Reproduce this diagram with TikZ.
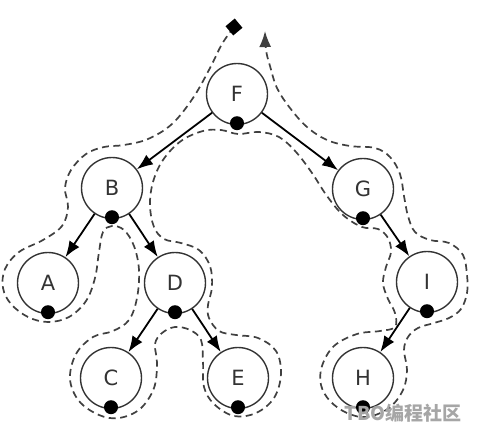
\documentclass[tikz,border=0pt]{standalone}
\usepackage{fontspec}
\setmainfont{DejaVu Sans}
\newfontfamily\cjkfont{Noto Sans CJK SC}
\usetikzlibrary{arrows.meta}
\begin{document}
\begin{tikzpicture}[x=1pt,y=-1pt,
  treenode/.style={circle,draw=black!80,line width=1.4pt,minimum size=61pt,inner sep=0pt,
    font=\fontsize{21}{24}\selectfont,text=black!80},
  edge/.style={line width=1.8pt,black,-{Latex[length=16pt,width=12pt]}},
  dotmark/.style={circle,fill=black,minimum size=14pt,inner sep=0pt},
  tour/.style={dash pattern=on 7pt off 4.5pt,line width=1.7pt,black!75},
  startmark/.style={fill=black,minimum size=12pt,inner sep=0pt,rotate=40}]
\useasboundingbox (0,0) rectangle (480,439);
\node[treenode] (F) at (237,94) {F};
\node[treenode] (B) at (112,188) {B};
\node[treenode] (G) at (363,189) {G};
\node[treenode] (A) at (48,283) {A};
\node[treenode] (D) at (175,283) {D};
\node[treenode] (I) at (427,282) {I};
\node[treenode] (C) at (111,378) {C};
\node[treenode] (E) at (238,378) {E};
\node[treenode] (H) at (363,378) {H};
\foreach \n in {F,B,G,A,D,I,C,E,H}{
  \node[dotmark] (\n dot) at ([yshift=2pt]\n.south) {};
}
\draw[edge] (F) -- (B);
\draw[edge] (F) -- (G);
\draw[edge] (B) -- (A);
\draw[edge] (B) -- (D);
\draw[edge] (G) -- (I);
\draw[edge] (D) -- (C);
\draw[edge] (D) -- (E);
\draw[edge] (I) -- (H);
\coordinate (tourstart) at (234,27);
\coordinate (tourend) at (265,31);
\draw[tour,-{Latex[length=16pt,width=12pt]}] plot[smooth,tension=0.6] coordinates {
(tourstart) (222,44) (210,68) (193,98) (172,124) (148,139) (124,145) (104,147)
(86,154) (71,170) (65,188) (68,207) (62,226) (43,240) (19,252) (5,269) (3,288)
(11,304) (28,317) (48,322) (69,317) (86,301) (95,278) (99,252) (103,232)
(112,226) (124,230) (134,246) (139,270) (137,298) (129,320) (113,331) (93,337)
(76,354) (70,379) (79,401) (99,415) (119,418) (140,409) (154,388) (157,363)
(155,344) (162,333) (175,327) (190,330) (201,340) (203,362) (204,387) (214,404)
(234,416) (256,413) (274,398) (281,374) (276,351) (258,338) (236,335) (219,331)
(209,318) (208,305) (212,287) (210,266) (199,250) (181,243) (164,239) (154,227)
(150,205) (153,182) (163,160) (181,141) (203,131) (221,130) (238,134) (259,132)
(279,137) (296,152) (312,173) (327,196) (343,215) (362,227) (378,229) (388,238)
(391,252) (386,267) (383,283) (388,299) (395,313) (395,327) (380,331) (357,334)
(334,346) (322,366) (321,385) (330,401) (347,413) (367,417) (389,408) (403,390)
(407,370) (404,350) (408,337) (418,328) (434,323) (449,318) (461,309) (467,293)
(467,275) (463,255) (449,243) (430,240) (415,232) (408,216) (404,196) (400,174)
(390,157) (375,148) (350,146) (327,140) (307,127) (290,108) (277,88) (270,66)
(266,50) (tourend)};
\node[startmark] (startnode) at (tourstart) {};
\node[text=black!35,font=\cjkfont\bfseries\fontsize{19}{21}\selectfont] (wm) at (403,413) {TBO编程社区};
\end{tikzpicture}
\end{document}
